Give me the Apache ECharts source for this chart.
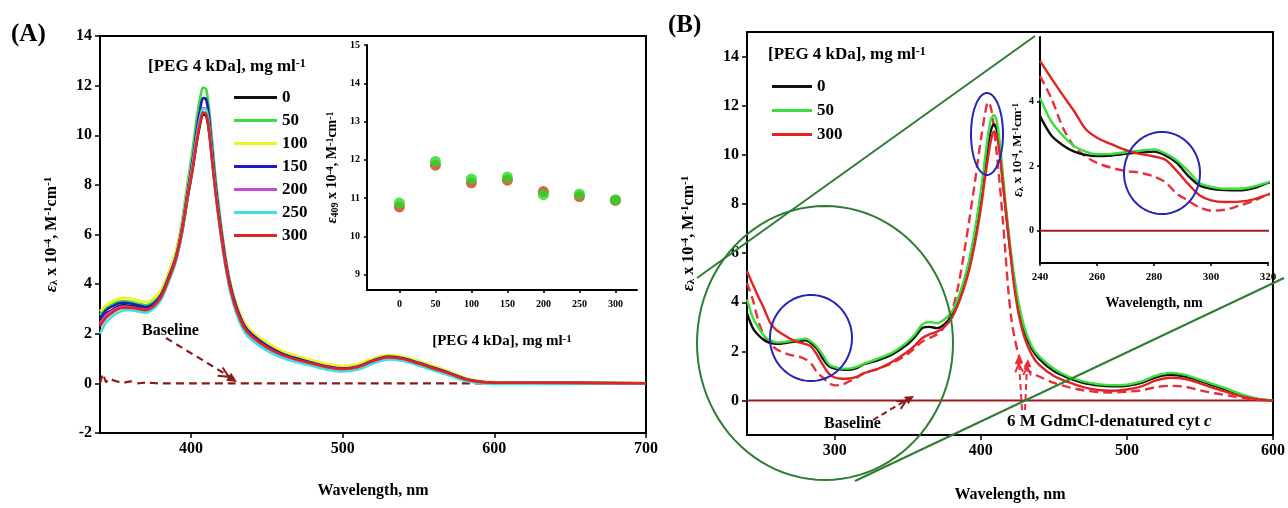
<!DOCTYPE html>
<html>
<head>
<meta charset="utf-8">
<script src="https://cdn.jsdelivr.net/npm/echarts@6.0.0/dist/echarts.min.js"></script>
<style>
  body { margin: 0; background: #fff; }
  #main { width: 1288px; height: 508px; }
</style>
</head>
<body>
<div id="main"></div>
<script>
// ---------- panel A : PEG series, 340-700 nm ----------
var wlA = [340, 344, 348, 352, 356, 360, 365, 370, 375, 380,
  385, 390, 394, 398, 401, 404, 406, 408, 410, 412,
  414, 416, 418, 420, 423, 426, 430, 435, 440, 450,
  460, 470, 480, 490, 500, 510, 520, 530, 540, 550,
  560, 570, 580, 590, 600, 650, 700];
var epsA0 = [2.45, 2.80, 2.95, 3.10, 3.15, 3.12, 3.08, 3.02, 3.15, 3.50,
  4.20, 5.00, 6.05, 7.55, 8.60, 9.80, 10.45, 10.83, 10.78, 10.10,
  8.95, 7.85, 6.85, 5.95, 4.75, 3.85, 3.00, 2.30, 1.95, 1.50,
  1.18, 0.98, 0.82, 0.67, 0.60, 0.68, 0.92, 1.07, 1.00, 0.82,
  0.62, 0.42, 0.20, 0.07, 0.03, 0.02, 0.00];
var epsA50 = [2.75, 3.05, 3.20, 3.30, 3.32, 3.30, 3.22, 3.15, 3.30, 3.65,
  4.40, 5.30, 6.50, 8.20, 9.40, 10.80, 11.50, 11.92, 11.85, 11.00,
  9.70, 8.40, 7.30, 6.30, 5.00, 4.00, 3.10, 2.40, 2.00, 1.55,
  1.22, 1.00, 0.84, 0.69, 0.62, 0.70, 0.94, 1.10, 1.02, 0.84,
  0.64, 0.44, 0.21, 0.07, 0.03, 0.02, 0.00];
var epsA100 = [2.90, 3.15, 3.30, 3.40, 3.45, 3.42, 3.35, 3.28, 3.40, 3.75,
  4.45, 5.30, 6.40, 8.00, 9.10, 10.40, 11.05, 11.45, 11.38, 10.65,
  9.40, 8.20, 7.15, 6.25, 5.00, 4.05, 3.20, 2.50, 2.10, 1.65,
  1.32, 1.10, 0.93, 0.78, 0.70, 0.78, 1.00, 1.15, 1.08, 0.90,
  0.70, 0.48, 0.24, 0.09, 0.04, 0.02, 0.01];
var epsA150 = [2.60, 2.95, 3.10, 3.22, 3.25, 3.22, 3.15, 3.08, 3.20, 3.55,
  4.25, 5.10, 6.25, 7.85, 9.00, 10.35, 11.05, 11.50, 11.45, 10.70,
  9.40, 8.15, 7.10, 6.15, 4.90, 3.95, 3.08, 2.35, 1.98, 1.52,
  1.20, 1.00, 0.83, 0.68, 0.60, 0.68, 0.92, 1.08, 1.01, 0.83,
  0.63, 0.43, 0.20, 0.07, 0.03, 0.02, 0.00];
var epsA200 = [2.40, 2.75, 2.92, 3.05, 3.10, 3.08, 3.02, 2.97, 3.10, 3.45,
  4.15, 5.00, 6.15, 7.70, 8.80, 10.05, 10.70, 11.10, 11.05, 10.35,
  9.10, 7.90, 6.90, 5.95, 4.75, 3.80, 2.95, 2.25, 1.88, 1.43,
  1.12, 0.93, 0.78, 0.63, 0.56, 0.64, 0.88, 1.03, 0.96, 0.78,
  0.58, 0.38, 0.17, 0.05, 0.02, 0.01, 0.00];
var epsA250 = [2.00, 2.45, 2.70, 2.85, 2.95, 2.95, 2.90, 2.85, 3.00, 3.35,
  4.05, 4.90, 6.05, 7.60, 8.75, 10.00, 10.65, 11.08, 11.02, 10.30,
  9.00, 7.80, 6.75, 5.80, 4.60, 3.65, 2.80, 2.10, 1.75, 1.32,
  1.03, 0.85, 0.70, 0.55, 0.48, 0.56, 0.80, 0.96, 0.90, 0.72,
  0.52, 0.33, 0.12, 0.02, -0.02, -0.02, -0.01];
var epsA300 = [2.30, 2.65, 2.85, 3.00, 3.05, 3.05, 3.00, 2.95, 3.10, 3.45,
  4.15, 5.00, 6.10, 7.60, 8.65, 9.85, 10.50, 10.92, 10.85, 10.15,
  8.95, 7.80, 6.80, 5.90, 4.70, 3.80, 2.95, 2.25, 1.90, 1.45,
  1.15, 0.95, 0.80, 0.65, 0.58, 0.66, 0.90, 1.05, 0.98, 0.80,
  0.60, 0.40, 0.18, 0.06, 0.03, 0.02, 0.00];
var wlBaseA = [340, 342, 344, 346, 350, 355, 360, 365, 370, 380, 400, 500, 600, 700];
var baseA = [0.00, 0.38, 0.05, 0.18, 0.10, 0.02, 0.08, 0.00, 0.03, 0.00, 0.00, 0.00, 0.00, 0.00];

var pegNames = ['0', '50', '100', '150', '200', '250', '300'];
var pegColors = ['#111111', '#3ae03a', '#f2f21a', '#1c1cc4', '#c64ad8', '#3ee0e0', '#e02424'];

// inset A : eps409 vs [PEG]
var pegConc = [0, 50, 100, 150, 200, 250, 300];
var eps409Green = [10.87, 11.96, 11.50, 11.55, 11.09, 11.11, 10.96];
var eps409Red = [10.77, 11.86, 11.40, 11.47, 11.17, 11.04, 10.94];

// ---------- panel B : 0, 50, 300 and denatured, 240-600 nm ----------
var wlB = [240, 244, 248, 252, 256, 260, 265, 270, 275, 280,
  284, 288, 292, 296, 300, 305, 310, 315, 320, 330,
  340, 350, 355, 360, 365, 370, 375, 380, 384, 388,
  392, 396, 400, 403, 405, 407, 409, 411, 413, 415,
  417, 419, 421, 423, 426, 430, 435, 440, 450, 460,
  470, 480, 490, 500, 510, 520, 530, 540, 550, 560,
  570, 580, 590, 600];
var epsB0 = [3.55, 2.95, 2.65, 2.45, 2.35, 2.31, 2.33, 2.38, 2.42, 2.45,
  2.33, 2.10, 1.70, 1.40, 1.30, 1.26, 1.25, 1.32, 1.48, 1.65,
  1.90, 2.30, 2.60, 2.95, 3.00, 2.95, 3.10, 3.45, 4.00, 4.70,
  5.60, 6.80, 8.30, 9.60, 10.40, 11.00, 11.25, 11.00, 10.20, 9.00,
  7.80, 6.70, 5.70, 4.80, 3.80, 2.80, 2.10, 1.70, 1.20, 0.92,
  0.72, 0.62, 0.58, 0.60, 0.72, 0.95, 1.05, 0.98, 0.80, 0.60,
  0.40, 0.20, 0.06, 0.00];
var epsB50 = [4.12, 3.38, 2.95, 2.62, 2.45, 2.37, 2.38, 2.43, 2.48, 2.52,
  2.40, 2.18, 1.85, 1.48, 1.36, 1.30, 1.30, 1.37, 1.50, 1.72,
  1.97, 2.40, 2.70, 3.10, 3.20, 3.15, 3.30, 3.60, 4.10, 4.80,
  5.70, 6.95, 8.50, 9.90, 10.80, 11.45, 11.62, 11.35, 10.50, 9.30,
  8.05, 6.90, 5.90, 5.00, 3.95, 2.95, 2.20, 1.80, 1.30, 0.98,
  0.78, 0.67, 0.63, 0.65, 0.78, 1.02, 1.13, 1.05, 0.85, 0.65,
  0.45, 0.22, 0.07, 0.00];
var epsB300 = [5.26, 4.72, 4.20, 3.70, 3.15, 2.88, 2.68, 2.50, 2.38, 2.30,
  2.20, 1.85, 1.45, 1.10, 0.94, 0.89, 0.90, 0.97, 1.12, 1.30,
  1.60, 2.00, 2.25, 2.55, 2.70, 2.80, 3.00, 3.35, 3.85, 4.50,
  5.30, 6.40, 7.80, 9.10, 9.90, 10.60, 10.95, 10.75, 10.00, 8.90,
  7.80, 6.70, 5.60, 4.60, 3.50, 2.55, 1.85, 1.45, 1.00, 0.75,
  0.55, 0.43, 0.40, 0.45, 0.58, 0.82, 0.93, 0.88, 0.70, 0.50,
  0.32, 0.15, 0.05, 0.00];
var epsBDen = [4.79, 4.10, 3.20, 2.60, 2.30, 2.10, 1.95, 1.85, 1.80, 1.68,
  1.50, 1.15, 0.93, 0.72, 0.62, 0.65, 0.78, 0.92, 1.12, 1.30,
  1.55, 1.90, 2.15, 2.40, 2.55, 2.70, 3.00, 3.60, 4.50, 5.80,
  7.30, 8.90, 10.60, 11.70, 12.15, 11.90, 11.10, 10.00, 8.80, 7.40,
  5.90, 4.40, 3.30, 2.60, 1.85, 1.35, 1.12, 0.98, 0.72, 0.55,
  0.42, 0.35, 0.33, 0.36, 0.42, 0.55, 0.60, 0.56, 0.42, 0.30,
  0.20, 0.10, 0.03, 0.00];
var wlBaseB = [240, 600];
var baseB = [0, 0];

// tick labels
var ticksAX = [400, 500, 600, 700];
var ticksBX = [300, 400, 500, 600];
var ticksBY = [0, 2, 4, 6, 8, 10, 12, 14];
var ticksInAX = [0, 50, 100, 150, 200, 250, 300];
var ticksInAY = [9, 10, 11, 12, 13, 14, 15];
var ticksInBY = [0, 2, 4];

var F = '"Liberation Serif", "Times New Roman", serif';

function pairs(xs, ys) {
  return xs.map(function (x, i) { return [x, ys[i]]; });
}

// rich text for the epsilon axis names
function epsRich(size) {
  var small = Math.round(size * 0.68);
  return {
    n: { fontFamily: F, fontWeight: 'bold', fontSize: size, color: '#000' },
    e: { fontFamily: F, fontStyle: 'italic', fontSize: size + 1, color: '#000' },
    s: { fontFamily: F, fontWeight: 'bold', fontSize: small, color: '#000', verticalAlign: 'top' },
    b: { fontFamily: F, fontWeight: 'bold', fontSize: small, color: '#000', verticalAlign: 'bottom' }
  };
}
var epsName = '{e|ε}{b|λ}{n| x 10}{s|-4}{n|, M}{s|-1}{n|cm}{s|-1}';

function axisBase(extra) {
  var o = {
    type: 'value',
    splitLine: { show: false },
    axisLine: { show: true, onZero: false, lineStyle: { color: '#000', width: 2 } },
    axisTick: { show: true, length: 5, lineStyle: { color: '#000', width: 1.5 } },
    axisLabel: { color: '#000', fontFamily: F, fontWeight: 'bold', fontSize: 16, margin: 8 },
    nameTextStyle: { color: '#000', fontFamily: F, fontWeight: 'bold', fontSize: 16 }
  };
  for (var k in extra) {
    if (typeof extra[k] === 'object' && o[k] && !Array.isArray(extra[k])) {
      o[k] = Object.assign({}, o[k], extra[k]);
    } else {
      o[k] = extra[k];
    }
  }
  return o;
}

var series = [];
// A main
series.push({
  name: 'Baseline A', type: 'line', xAxisIndex: 0, yAxisIndex: 0, showSymbol: false,
  data: pairs(wlBaseA, baseA), smooth: 0.2,
  lineStyle: { color: '#8b1a1a', width: 2.2, type: [8, 5] }
});
[epsA0, epsA50, epsA100, epsA150, epsA200, epsA250, epsA300].forEach(function (arr, i) {
  series.push({
    name: pegNames[i], type: 'line', xAxisIndex: 0, yAxisIndex: 0, showSymbol: false,
    smooth: 0.3, data: pairs(wlA, arr), color: pegColors[i],
    lineStyle: { color: pegColors[i], width: 2.6 }
  });
});
// A inset
series.push({
  name: 'eps409 (red)', type: 'scatter', xAxisIndex: 1, yAxisIndex: 1,
  data: pairs(pegConc, eps409Red), symbolSize: 11,
  itemStyle: { color: '#c8401e' }
});
series.push({
  name: 'eps409 (green)', type: 'scatter', xAxisIndex: 1, yAxisIndex: 1,
  data: pairs(pegConc, eps409Green), symbolSize: 11,
  itemStyle: { color: '#22dd22' }
});
// B main and B inset share the same data
[2, 3].forEach(function (ax) {
  series.push({
    name: 'Baseline B', type: 'line', xAxisIndex: ax, yAxisIndex: ax, showSymbol: false,
    data: pairs(wlBaseB, baseB), lineStyle: { color: '#a01c1c', width: 2 }
  });
  series.push({
    name: '6 M GdmCl', type: 'line', xAxisIndex: ax, yAxisIndex: ax, showSymbol: false,
    smooth: 0.3, data: pairs(wlB, epsBDen),
    lineStyle: { color: '#e8303a', width: 2.4, type: [9, 5] }
  });
  [[epsB0, '0', '#111111'], [epsB50, '50', '#3ae03a'], [epsB300, '300', '#e02424']].forEach(function (s) {
    series.push({
      name: s[1], type: 'line', xAxisIndex: ax, yAxisIndex: ax, showSymbol: false,
      smooth: 0.3, data: pairs(wlB, s[0]), color: s[2],
      lineStyle: { color: s[2], width: 2.4 }
    });
  });
});

// ---------- annotations ----------
function txt(x, y, text, size, extra) {
  var st = { text: text, x: x, y: y, fill: '#000', font: 'bold ' + size + 'px ' + F,
    align: 'left', verticalAlign: 'middle' };
  return { type: 'text', silent: true, z: 120, style: Object.assign(st, extra || {}) };
}
function ln(x1, y1, x2, y2, color, w, dash) {
  return { type: 'line', silent: true, z: 110, shape: { x1: x1, y1: y1, x2: x2, y2: y2 },
    style: { stroke: color, lineWidth: w, lineDash: dash || null } };
}
function ell(cx, cy, rx, ry, color) {
  var pts = [];
  for (var i = 0; i < 96; i++) {
    var t = i / 96 * Math.PI * 2;
    pts.push([cx + rx * Math.cos(t), cy + ry * Math.sin(t)]);
  }
  return { type: 'polygon', silent: true, z: 110, shape: { points: pts, smooth: 0 },
    style: { fill: 'none', stroke: color, lineWidth: 2 } };
}
function head(x1, y1, x2, y2, color, len) {
  var a = Math.atan2(y2 - y1, x2 - x1), s = 0.45;
  var p = [[x2, y2],
    [x2 - len * Math.cos(a - s), y2 - len * Math.sin(a - s)],
    [x2 - len * Math.cos(a + s), y2 - len * Math.sin(a + s)]];
  var bx = x2 - len * 0.9 * Math.cos(a), by = y2 - len * 0.9 * Math.sin(a);
  return [
    { type: 'polygon', silent: true, z: 111, shape: { points: p }, style: { fill: color } },
    { type: 'polyline', silent: true, z: 111,
      shape: { points: [[bx - len * Math.cos(a - s), by - len * Math.sin(a - s)], [bx, by],
        [bx - len * Math.cos(a + s), by - len * Math.sin(a + s)]] },
      style: { stroke: color, lineWidth: 2, fill: 'none' } }
  ];
}

var supRich = {
  n: { fontFamily: F, fontWeight: 'bold', fontSize: 17, color: '#000' },
  s: { fontFamily: F, fontWeight: 'bold', fontSize: 12, color: '#000', verticalAlign: 'top' }
};

var graphic = [
  txt(11, 35, '(A)', 25),
  txt(668, 26, '(B)', 25),
  { type: 'text', silent: true, z: 120, x: 148, y: 58,
    style: { text: '{n|[PEG 4 kDa], mg ml}{s|-1}', rich: supRich } },
  { type: 'text', silent: true, z: 120, x: 768, y: 46,
    style: { text: '{n|[PEG 4 kDa], mg ml}{s|-1}', rich: supRich } },
  txt(142, 331, 'Baseline', 16),
  txt(824, 424, 'Baseline', 16),
  { type: 'text', silent: true, z: 120, x: 1007, y: 413,
    style: { text: '{n|6 M GdmCl-denatured cyt }{i|c}',
      rich: { n: { fontFamily: F, fontWeight: 'bold', fontSize: 17, color: '#000' },
        i: { fontFamily: F, fontWeight: 'bold', fontStyle: 'italic', fontSize: 17, color: '#000' } } } },
  // arrows
  ln(166, 338, 232, 378, '#8b1a1a', 2.2, [7, 5]),
  ln(873, 420, 908, 399, '#8b1a1a', 2, [6, 4]),
  ln(1022, 410, 1019, 362, '#e8303a', 2, [6, 4]),
  ln(1025, 410, 1027, 366, '#e8303a', 2, [6, 4]),
  // zoom call-outs
  ell(825, 343, 128, 137, '#2e7d32'),
  ln(697, 278, 1035, 36, '#2e7d32', 2),
  ln(855, 481, 1284, 278, '#2e7d32', 2),
  ell(811, 338, 41, 43, '#2626b4'),
  ell(987, 134, 16, 41, '#2626b4'),
  ell(1162, 173, 38, 41, '#2626b4')
];
graphic = graphic.concat(head(166, 338, 237, 382, '#8b1a1a', 11));
graphic = graphic.concat(head(873, 420, 914, 396, '#8b1a1a', 10));
graphic = graphic.concat(head(1022, 410, 1018, 356, '#e8303a', 9));
graphic = graphic.concat(head(1025, 410, 1028, 359, '#e8303a', 9));

var legendText = { color: '#000', fontFamily: F, fontWeight: 'bold', fontSize: 17 };

var option = {
  animation: false,
  backgroundColor: '#fff',
  grid: [
    { left: 100, right: 642, top: 36, bottom: 75, show: true, borderColor: '#000', borderWidth: 2 },
    { left: 367, right: 651, top: 45, bottom: 218 },
    { left: 747, right: 14, top: 32, bottom: 71, show: true, borderColor: '#000', borderWidth: 2 },
    { left: 1040, right: 20, top: 37, bottom: 245 }
  ],
  legend: [
    { data: pegNames, orient: 'vertical', left: 229, top: 84, icon: 'rect', itemWidth: 43, itemHeight: 3,
      itemGap: 6, selectedMode: false, textStyle: legendText },
    { data: ['0', '50', '300'], orient: 'vertical', left: 767, top: 73, icon: 'rect', itemWidth: 40, itemHeight: 3,
      itemGap: 7, selectedMode: false, textStyle: legendText }
  ],
  xAxis: [
    axisBase({ gridIndex: 0, min: 340, max: 700, name: 'Wavelength, nm', nameLocation: 'middle', nameGap: 50,
      axisLabel: { customValues: ticksAX }, axisTick: { customValues: ticksAX } }),
    axisBase({ gridIndex: 1, min: -45, max: 330,
      name: '{n|[PEG 4 kDa], mg ml}{s|-1}', nameLocation: 'middle', nameGap: 44,
      nameTextStyle: { rich: {
        n: { fontFamily: F, fontWeight: 'bold', fontSize: 15, color: '#000' },
        s: { fontFamily: F, fontWeight: 'bold', fontSize: 11, color: '#000', verticalAlign: 'top' } } },
      axisLabel: { customValues: ticksInAX, fontSize: 10, margin: 9 },
      axisTick: { customValues: ticksInAX, length: 3 } }),
    axisBase({ gridIndex: 2, min: 240, max: 600, name: 'Wavelength, nm', nameLocation: 'middle', nameGap: 52,
      axisLabel: { customValues: ticksBX }, axisTick: { customValues: ticksBX } }),
    axisBase({ gridIndex: 3, min: 240, max: 320, interval: 20,
      name: 'Wavelength, nm', nameLocation: 'middle', nameGap: 33, nameTextStyle: { fontSize: 14 },
      axisLabel: { fontSize: 11, margin: 9 }, axisTick: { length: 3 } })
  ],
  yAxis: [
    axisBase({ gridIndex: 0, min: -2, max: 14, interval: 2,
      name: epsName, nameLocation: 'middle', nameRotate: 90, nameGap: 40,
      nameTextStyle: { rich: epsRich(16) } }),
    axisBase({ gridIndex: 1, min: 8.6, max: 15,
      name: '{e|ε}{b|409}{n| x 10}{s|-4}{n|, M}{s|-1}{n|cm}{s|-1}', nameLocation: 'middle', nameRotate: 90,
      nameGap: 27, nameTextStyle: { rich: epsRich(14) },
      axisLabel: { customValues: ticksInAY, fontSize: 10, margin: 7 },
      axisTick: { customValues: ticksInAY, length: 3 } }),
    axisBase({ gridIndex: 2, min: -1.4, max: 15,
      name: epsName, nameLocation: 'middle', nameRotate: 90, nameGap: 50,
      nameTextStyle: { rich: epsRich(16) },
      axisLabel: { customValues: ticksBY }, axisTick: { customValues: ticksBY } }),
    axisBase({ gridIndex: 3, min: -1, max: 6,
      name: epsName, nameLocation: 'middle', nameRotate: 90, nameGap: 9,
      nameTextStyle: { rich: epsRich(13) },
      axisLabel: { customValues: ticksInBY, fontSize: 10, margin: 6 },
      axisTick: { customValues: ticksInBY, length: 3 } })
  ],
  graphic: graphic,
  series: series
};

var myChart = echarts.init(document.getElementById('main'));
myChart.setOption(option);
</script>
</body>
</html>
